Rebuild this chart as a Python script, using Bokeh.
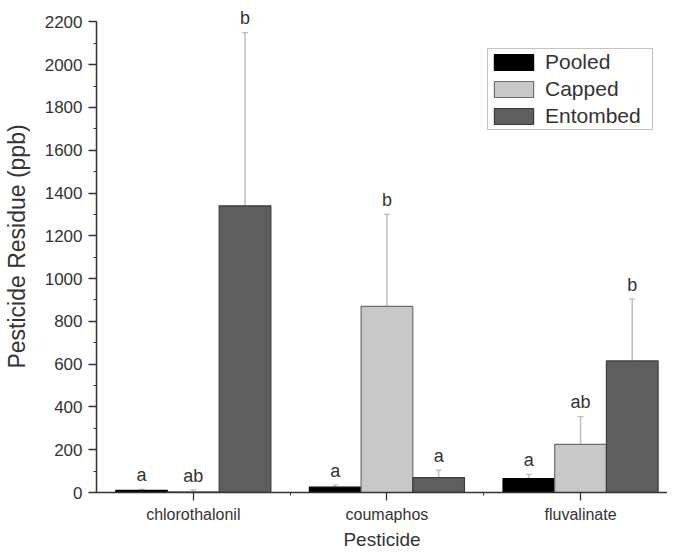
import numpy as np
from bokeh.plotting import figure
from bokeh.models import (ColumnDataSource, Range1d, FixedTicker, SingleIntervalTicker,
                          Whisker, TeeHead, Legend, LegendItem)
from bokeh.core.properties import value
from bokeh.embed import file_html
from bokeh.resources import INLINE

# ---- data ----
pesticides = ["chlorothalonil", "coumaphos", "fluvalinate"]
series = ["Pooled", "Capped", "Entombed"]
pooled = [10, 25, 65]
pooled_top = [15, 35, 85]
capped = [3, 870, 225]
capped_top = [12, 1300, 355]
entombed = [1340, 70, 615]
entombed_top = [2150, 105, 905]
pooled_letters = ["a", "a", "a"]
capped_letters = ["ab", "b", "ab"]
entombed_letters = ["b", "a", "b"]
y_ticks_interval = 200

FONT = "Liberation Sans"
TXT = "#333333"

p = figure(width=667, height=552, output_backend="svg", toolbar_location=None,
           x_range=Range1d(0.5, 3.449), y_range=Range1d(0, 2300),
           min_border_left=89, min_border_right=0, min_border_top=0, min_border_bottom=0)
p.outline_line_color = None
p.xgrid.visible = False
p.ygrid.visible = False

bar_w = 0.267
idx = np.arange(1, len(pesticides) + 1)
offsets = [-bar_w, 0.0, bar_w]
vals = [pooled, capped, entombed]
tops = [pooled_top, capped_top, entombed_top]
letters = [pooled_letters, capped_letters, entombed_letters]
fills = ["#000000", "#c8c8c8", "#5e5e5e"]
lines = ["#000000", "#6e6e6e", "#3c3c3c"]

items = []
for s, off, v, t, lt, fc, lc in zip(series, offsets, vals, tops, letters, fills, lines):
    src = ColumnDataSource(dict(x=idx + off, y=v, top=t, lab=lt,
                                ly=np.array(t) + 20))
    r = p.vbar(x="x", top="y", bottom=0, width=bar_w, source=src,
               fill_color=fc, line_color=lc, line_width=1.2)
    items.append(LegendItem(label=s, renderers=[r]))
    w = Whisker(source=src, base="x", upper="top", lower="y", dimension="height",
                line_color="#bdbdbd", line_width=1.5,
                upper_head=TeeHead(size=6, line_color="#bdbdbd", line_width=1.2),
                lower_head=None)
    p.add_layout(w)
    p.text(x="x", y="ly", text="lab", source=src, text_align="center",
           text_baseline="bottom", text_font=value(FONT), text_font_size="18px",
           text_color=TXT)

# axes
xa = p.xaxis[0]
xa.ticker = FixedTicker(ticks=list(idx), minor_ticks=list(idx + 0.5))
xa.major_label_overrides = {int(i): n for i, n in zip(idx, pesticides)}
xa.axis_label = "Pesticide"
ya = p.yaxis[0]
ya.ticker = SingleIntervalTicker(interval=y_ticks_interval, num_minor_ticks=2)
ya.bounds = (0, 2200)
ya.axis_label = "Pesticide Residue (ppb)"

for ax in (xa, ya):
    ax.axis_line_color = "#333333"
    ax.axis_line_width = 1.5
    ax.major_tick_line_color = "#333333"
    ax.minor_tick_line_color = "#333333"
    ax.major_tick_line_width = 1.3
    ax.minor_tick_line_width = 1.0
    ax.major_tick_in = 0
    ax.major_tick_out = 8
    ax.minor_tick_in = 0
    ax.minor_tick_out = 3
    ax.major_label_text_font = FONT
    ax.major_label_text_color = TXT
    ax.axis_label_text_font = FONT
    ax.axis_label_text_font_style = "normal"
    ax.axis_label_text_color = TXT

xa.major_label_text_font_size = "16px"
xa.major_label_standoff = 5
xa.axis_label_standoff = 3
xa.axis_label_text_font_size = "19px"
ya.major_label_text_font_size = "17px"
ya.major_label_standoff = 6
ya.axis_label_standoff = 12
ya.axis_label_text_font_size = "23px"

legend = Legend(items=items, location=(391, 362), glyph_width=49, glyph_height=20,
                label_standoff=7, spacing=3, padding=1, margin=0, label_width=106,
                border_line_color="#888888", border_line_width=1,
                label_text_font=FONT, label_text_font_size="21px",
                label_text_color=TXT, label_height=20)
p.add_layout(legend, "center")

open("out.html", "w").write(file_html(p, INLINE))
